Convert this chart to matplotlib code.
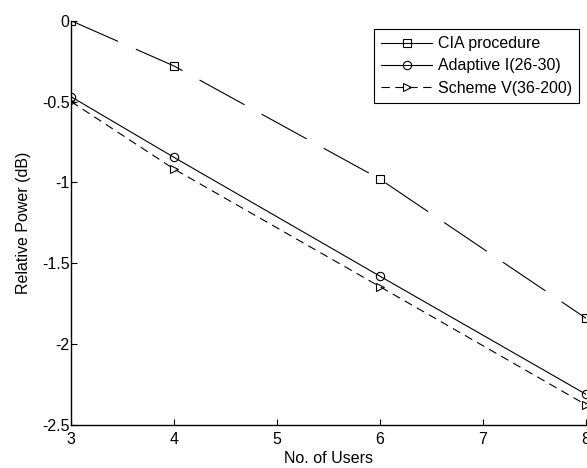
import matplotlib
matplotlib.use("Agg")
import matplotlib.pyplot as plt

plt.rcParams['font.family'] = ['Liberation Sans', 'DejaVu Sans']
plt.rcParams['lines.scale_dashes'] = False

users = [3, 4, 6, 8]
cia = [0.0, -0.28, -0.98, -1.84]
adaptive = [-0.47, -0.845, -1.58, -2.31]
scheme = [-0.50, -0.917, -1.645, -2.375]
labels = ['CIA procedure', 'Adaptive I(26-30)', 'Scheme V(36-200)']

W, H = 587, 468
FS = 11.5
fig = plt.figure(figsize=(W/100, H/100), dpi=100)
ax = fig.add_axes([71/W, 1-425/H, (586-71)/W, (425-20.7)/H])

lw = 0.8
l1, = ax.plot(users, cia, color='black', lw=lw, marker='s', mfc='none', ms=6, mew=0.8,
              label=labels[0])
l1.set_dashes((37, 14))
ax.plot(users, adaptive, color='black', lw=lw, marker='o', mfc='none', ms=6, mew=0.8,
        label=labels[1])
l3, = ax.plot(users, scheme, color='black', lw=lw, marker='>', mfc='none', ms=6, mew=0.8,
              label=labels[2])
l3.set_dashes((6, 4))

ax.set_xlim(3, 8)
ax.set_ylim(-2.5, 0)
ax.set_xticks([3, 4, 5, 6, 7, 8])
ax.set_yticks([-2.5, -2, -1.5, -1, -0.5, 0])
ax.set_yticklabels(['-2.5', '-2', '-1.5', '-1', '-0.5', '0'])
ax.tick_params(direction='in', length=4, labelsize=FS, width=0.8)
ax.tick_params(axis='x', pad=5)
ax.tick_params(axis='y', pad=1)
for s in ['top', 'right']:
    ax.spines[s].set_visible(False)
for s in ['left', 'bottom']:
    ax.spines[s].set_linewidth(1.0)

ax.set_xlabel('No. of Users', fontsize=FS, labelpad=3)
ax.set_ylabel('Relative Power (dB)', fontsize=FS, labelpad=8)

leg = ax.legend(loc='upper right', bbox_to_anchor=(579/W, 1-29/H),
                bbox_transform=fig.transFigure, borderaxespad=0,
                fontsize=FS, handlelength=3.2, fancybox=False, framealpha=1,
                edgecolor='black', borderpad=0.45, labelspacing=0.45, handletextpad=0.35)
leg.get_frame().set_linewidth(0.8)
leg.get_lines()[0].set_linestyle('-')

fig.savefig('out.png', dpi=100)
